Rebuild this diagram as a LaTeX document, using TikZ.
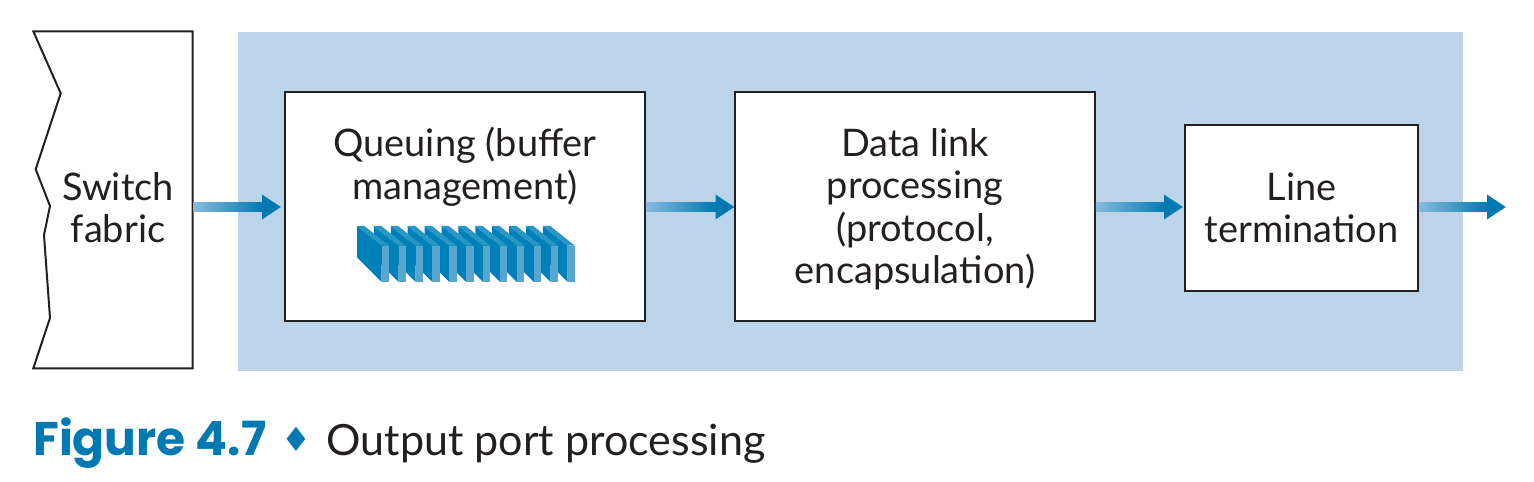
\documentclass[tikz,border=0pt]{standalone}
\usepackage{fontspec}
\setmainfont{Lato}
\newfontfamily\symfont{DejaVu Sans}
\newfontfamily\capfont{Poppins}
\usetikzlibrary{positioning,calc,arrows.meta}
\definecolor{panelblue}{HTML}{BCD4E9}
\definecolor{inkblack}{HTML}{231F20}
\definecolor{flowblue}{HTML}{0079B2}
\definecolor{flowmid}{HTML}{0090C4}
\definecolor{flowpale}{HTML}{86BBDD}
\definecolor{plateside}{HTML}{0080B8}
\definecolor{platetop}{HTML}{2A96C6}
\definecolor{platefront}{HTML}{58A5D0}
\tikzset{
    stagebox/.style={draw=inkblack, line width=0.04cm, fill=white, inner sep=0pt},
    stagetext/.style={text=inkblack, align=center, inner sep=0pt, font=\fontsize{21.6}{24.2}\selectfont},
    flowline/.style={draw=flowblue, line width=0.19cm, -{Triangle[length=0.38cm,width=0.47cm]}}
}
% shaft fades in from the left
\newcommand{\flowarrow}[2]{
    \draw[flowline] (#1) -- (#2);
    \shade[left color=flowpale, middle color=flowmid, right color=flowblue]
        ($(#1)+(0,-4.7)$) rectangle ($(#1)+(69,4.7)$);
}
\begin{document}
\begin{tikzpicture}[x=0.02cm, y=-0.02cm]
    \useasboundingbox (0,0) rectangle (1534,482);
    \fill[panelblue] (238,32) rectangle (1463,371);

    % torn edge of the fabric
    \draw[stagebox] (33.3,31.3) -- (60.7,93.3) -- (35.7,169.3) -- (50,206) -- (44,235)
        -- (50,318) -- (33.3,368.3) -- (192.7,368.3) -- (192.7,31.3) -- cycle;
    \node[stagetext, text width=3cm] (fabric) at (118,207.5) {Switch\\fabric};

    \node[stagebox, minimum width=7.2cm, minimum height=4.58cm] (queuing) at (465,206.5) {};
    \node[stagebox, minimum width=7.2cm, minimum height=4.58cm] (datalink) at (915,206.5) {};
    \node[stagebox, minimum width=4.66cm, minimum height=3.32cm, stagetext] (line) at (1301.5,208) {Line\\termination};
    \node[stagetext, below=0.72cm of queuing.north] (queuetext) {Queuing (buffer\\management)};
    \node[stagetext] (datatext) at ($(datalink.center)+(0,3)$) {Data link\\processing\\(protocol,\\encapsulation)};

    % plates, last one first
    \foreach \i in {11,10,...,0} {
        \begin{scope}[shift={(357+16.9*\i,226)}]
            \fill[plateside] (0,0) -- (24.7,19.7) -- (24.7,56) -- (0,31.3) -- cycle;
            \fill[platetop] (0,0) -- (7.3,0) -- (32,19.7) -- (24.7,19.7) -- cycle;
            \fill[platefront] (24.7,19.7) rectangle (32,56);
        \end{scope}
    }

    \coordinate (fabricout) at (fabric.east |- 0,207);
    \coordinate (queuein) at (281,207);
    \coordinate (queueout) at (queuing.east |- 0,207);
    \coordinate (datain) at (734.5,207);
    \coordinate (dataout) at (datalink.east |- 0,207);
    \coordinate (linein) at (1183,207);
    \coordinate (lineout) at (line.east |- 0,207);
    \coordinate (portout) at (1506,207);
    \foreach \a/\b in {fabricout/queuein, queueout/datain, dataout/linein, lineout/portout}
        \flowarrow{\a}{\b};

    \node[anchor=base west, inner sep=0pt, text=flowblue, font=\fontsize{26.8}{30}\capfont\bfseries] (figname) at (33,456) {Figure 4.7};
    \node[anchor=base, inner sep=0pt, text=flowblue, font=\fontsize{19}{24}\symfont] (figmark) at (296,452) {♦};
    \node[anchor=base west, inner sep=0pt, text=inkblack, font=\fontsize{24.5}{30}\selectfont] (figtitle) at (326,456) {Output port processing};
\end{tikzpicture}
\end{document}
